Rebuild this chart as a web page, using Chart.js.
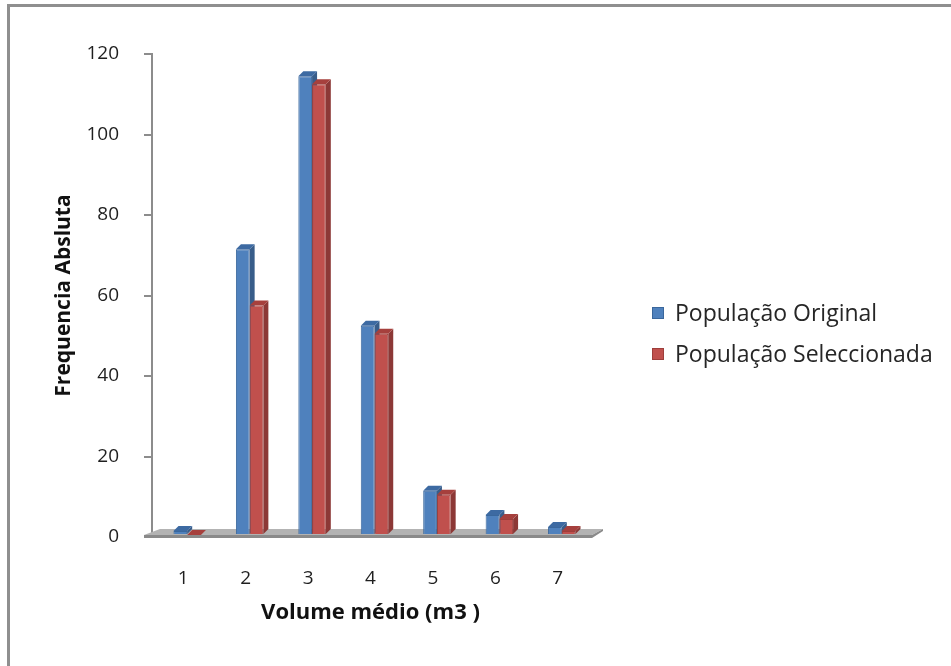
<!DOCTYPE html>
<html>
<head>
<meta charset="utf-8">
<script src="https://cdn.jsdelivr.net/npm/chart.js@4/dist/chart.umd.min.js"></script>
<style>
  html, body { margin: 0; padding: 0; background: #ffffff; }
  #wrap { position: relative; width: 951px; height: 666px; }
</style>
</head>
<body>
<div id="wrap"><canvas id="chart" width="951" height="666"></canvas></div>
<script>
// Volume classes and absolute frequencies
const categories = ['1', '2', '3', '4', '5', '6', '7'];
const populacaoOriginal = [1, 71, 114, 52, 11, 5, 2];
const populacaoSeleccionada = [0, 57, 112, 50, 10, 4, 1];
const yTicks = [0, 20, 40, 60, 80, 100, 120];

const seriesNames = ['População Original', 'População Seleccionada'];
const xTitle = 'Volume médio (m3 )';
const yTitle = 'Frequencia Absluta';

const FONT = '"Open Sans", Lato, sans-serif';

// face colours for the pseudo-3D columns: front, side, top
const shades = [
  { front: '#4f81bd', side: '#385d8a', top: '#3d6aa2', edge: '#3a679c' },
  { front: '#c0504d', side: '#8c3836', top: '#a6403d', edge: '#9e3e3b' }
];

const DEPTH = 5;      // column depth in px
const SHIFT_X = 4;    // columns stand in the middle of the floor
const SHIFT_Y = -2;

// frame around the chart
const framePlugin = {
  id: 'frame',
  beforeDraw(chart) {
    const ctx = chart.ctx;
    ctx.save();
    ctx.fillStyle = '#8f8f8f';
    ctx.fillRect(7, 4, chart.width - 7, 3);
    ctx.fillRect(7, 4, 3, chart.height - 4);
    ctx.restore();
  }
};

// grey floor under the columns, then the columns with their side and top faces
const depthPlugin = {
  id: 'depth',
  beforeDatasetsDraw(chart) {
    const { ctx, chartArea: a } = chart;
    const b = a.bottom;
    ctx.save();
    // top surface of the floor
    ctx.beginPath();
    ctx.moveTo(a.left - 8, b - 2);
    ctx.lineTo(a.right + 3, b - 2);
    ctx.lineTo(a.right + 14, b - 8);
    ctx.lineTo(a.left + 8, b - 8);
    ctx.closePath();
    ctx.fillStyle = '#b3b3b3';
    ctx.fill();
    // front edge of the floor
    ctx.beginPath();
    ctx.moveTo(a.left - 8, b - 2);
    ctx.lineTo(a.right + 3, b - 2);
    ctx.lineTo(a.right + 14, b - 8);
    ctx.lineTo(a.right + 14, b - 6);
    ctx.lineTo(a.right + 3, b + 1);
    ctx.lineTo(a.left - 8, b + 1);
    ctx.closePath();
    ctx.fillStyle = '#8a8a8a';
    ctx.fill();
    ctx.restore();
  },
  // columns are painted below, series by series, so each series covers the previous one's depth
  beforeDatasetDraw() {
    return false;
  },
  afterDatasetsDraw(chart) {
    const ctx = chart.ctx;
    ctx.save();
    ctx.translate(SHIFT_X, SHIFT_Y);
    chart.data.datasets.forEach((ds, i) => {
      const meta = chart.getDatasetMeta(i);
      const s = shades[i];
      meta.data.forEach((bar) => {
        bar.draw(ctx);
        const p = bar.getProps(['x', 'y', 'base', 'width'], true);
        const l = p.x - p.width / 2;
        const r = p.x + p.width / 2;
        const top = Math.min(p.y, p.base);
        const base = p.base;
        // side face
        ctx.beginPath();
        ctx.moveTo(r, top);
        ctx.lineTo(r + DEPTH, top - DEPTH);
        ctx.lineTo(r + DEPTH, base - DEPTH);
        ctx.lineTo(r, base);
        ctx.closePath();
        ctx.fillStyle = s.side;
        ctx.fill();
        // top face
        ctx.beginPath();
        ctx.moveTo(l, top);
        ctx.lineTo(l + DEPTH, top - DEPTH);
        ctx.lineTo(r + DEPTH, top - DEPTH);
        ctx.lineTo(r, top);
        ctx.closePath();
        ctx.fillStyle = s.top;
        ctx.fill();
      });
    });
    ctx.restore();
  }
};

// legend to the right of the plot
const legendPlugin = {
  id: 'sideLegend',
  afterDraw(chart) {
    const ctx = chart.ctx;
    ctx.save();
    ctx.font = '23px ' + FONT;
    ctx.textBaseline = 'middle';
    ctx.textAlign = 'left';
    chart.data.datasets.forEach((ds, i) => {
      const cy = 313 + i * 41;
      ctx.fillStyle = shades[i].front;
      ctx.fillRect(652, cy - 6, 12, 12);
      ctx.strokeStyle = shades[i].edge;
      ctx.lineWidth = 1;
      ctx.strokeRect(652.5, cy - 5.5, 11, 11);
      ctx.fillStyle = '#262626';
      ctx.fillText(ds.label, 675, cy + 1);
    });
    ctx.restore();
  }
};

new Chart(document.getElementById('chart'), {
  type: 'bar',
  data: {
    labels: categories,
    datasets: [
      {
        label: seriesNames[0],
        data: populacaoOriginal,
        backgroundColor: shades[0].front,
        borderColor: shades[0].edge,
        borderWidth: 1
      },
      {
        label: seriesNames[1],
        data: populacaoSeleccionada,
        backgroundColor: shades[1].front,
        borderColor: shades[1].edge,
        borderWidth: 1
      }
    ]
  },
  options: {
    responsive: false,
    animation: false,
    events: [],
    datasets: {
      bar: { categoryPercentage: 0.44, barPercentage: 1 }
    },
    layout: { padding: { left: 0, top: 54, right: 362, bottom: 0 } },
    plugins: {
      legend: { display: false },
      tooltip: { enabled: false }
    },
    scales: {
      x: {
        grid: { display: false },
        border: { display: false },
        ticks: { color: '#1f1f1f', font: { family: FONT, size: 19 }, padding: 22 },
        title: {
          display: true,
          text: xTitle,
          color: '#111111',
          font: { family: FONT, size: 22, weight: 'bold' },
          padding: { top: 0, bottom: 40 }
        },
        afterFit(scale) { scale.height = 129; }
      },
      y: {
        min: 0,
        max: 120,
        afterBuildTicks(scale) { scale.ticks = yTicks.map(v => ({ value: v })); },
        grid: {
          drawOnChartArea: false,
          drawTicks: true,
          tickLength: 8,
          color: '#8c8c8c',
          lineWidth: 2
        },
        border: { display: true, color: '#8c8c8c', width: 2 },
        ticks: { color: '#1f1f1f', font: { family: FONT, size: 19 }, padding: 25 },
        title: {
          display: true,
          text: yTitle,
          color: '#111111',
          font: { family: FONT, size: 21, weight: 'bold' },
          padding: { top: 51, bottom: 0 }
        },
        afterFit(scale) { scale.width = 152; }
      }
    }
  },
  plugins: [framePlugin, depthPlugin, legendPlugin]
});
</script>
</body>
</html>
